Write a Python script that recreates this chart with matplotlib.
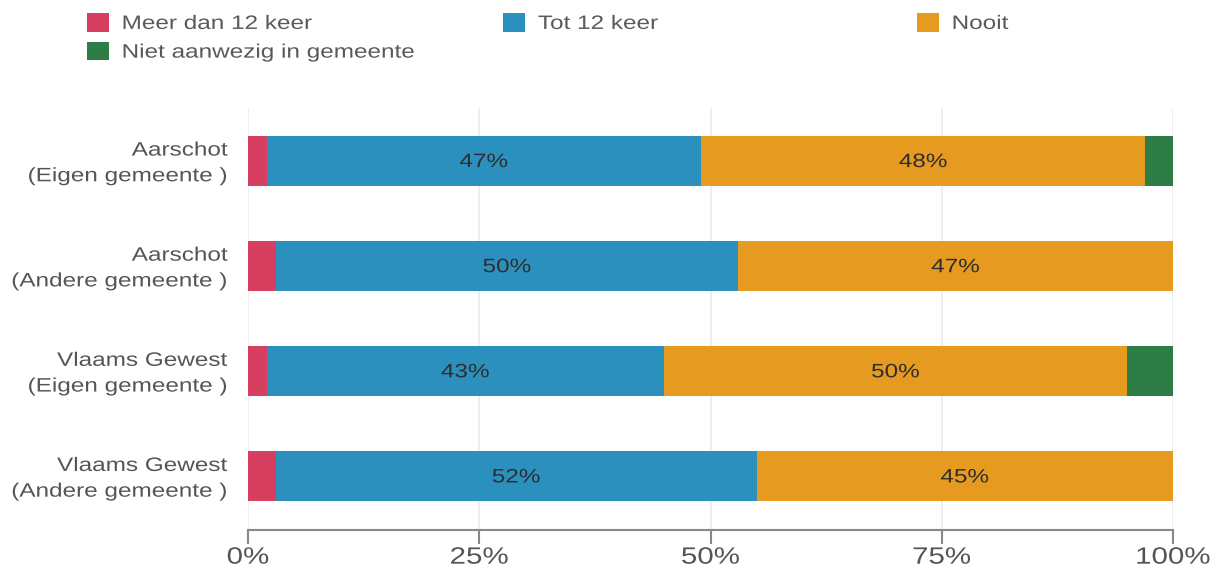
import matplotlib
matplotlib.use("Agg")
import matplotlib.pyplot as plt
from matplotlib.patches import Patch
from matplotlib.patheffects import AbstractPathEffect
from matplotlib.transforms import Affine2D, ScaledTranslation
from matplotlib.ticker import FuncFormatter

plt.rcParams['font.family'] = ['Liberation Sans', 'DejaVu Sans']

# data
groups = ["Aarschot\n(Eigen gemeente )", "Aarschot\n(Andere gemeente )",
          "Vlaams Gewest\n(Eigen gemeente )", "Vlaams Gewest\n(Andere gemeente )"]
series = ["Meer dan 12 keer", "Tot 12 keer", "Nooit", "Niet aanwezig in gemeente"]
meer = [2, 3, 2, 3]
tot = [47, 50, 43, 52]
nooit = [48, 47, 50, 45]
niet = [3, 0, 5, 0]
colors = ["#D63F5F", "#2B90BE", "#E69B20", "#2E7D46"]

values = [meer, tot, nooit, niet]


# the reference text is wider than Liberation Sans, stretch it horizontally
class Stretch(AbstractPathEffect):
    def __init__(self, sx=1.25, ha="left"):
        super().__init__()
        self.sx = sx
        self.ha = ha

    def draw_path(self, renderer, gc, tpath, affine, rgbFace=None):
        ext = tpath.get_extents()
        ref = {"left": ext.x0, "center": (ext.x0 + ext.x1) / 2, "right": ext.x1}[self.ha]
        pre = Affine2D().translate(-ref, 0).scale(self.sx, 1).translate(ref, 0)
        renderer.draw_path(gc, tpath, pre + affine, rgbFace)


SX = 1.25

fig = plt.figure(figsize=(12.21, 5.67), dpi=100)
ax = fig.add_axes([248 / 1221, 1 - 530 / 567, (1173 - 248) / 1221, (530 - 108) / 567])

ypos = list(range(len(groups)))
left = [0] * len(groups)
for name, vals, col in zip(series, values, colors):
    ax.barh(ypos, vals, left=left, height=0.476, color=col, label=name, zorder=2)
    for y, v, l in zip(ypos, vals, left):
        if v >= 10:
            ax.text(l + v / 2, y, f"{v}%", ha="center", va="center_baseline",
                    fontsize=14, color="#2E2E2E", zorder=3,
                    path_effects=[Stretch(SX, "center")])
    left = [a + b for a, b in zip(left, vals)]

ax.set_xlim(0, 100)
ax.set_ylim(3.514, -0.5)
ax.set_yticks(ypos)
ax.set_yticklabels(groups, fontsize=14, color="#555555", linespacing=1.67)
ax.set_xticks([0, 25, 50, 75, 100])
ax.xaxis.set_major_formatter(FuncFormatter(lambda v, p: f"{int(v)}%"))
ax.tick_params(axis="x", labelsize=17, colors="#555555", length=10, width=1.5,
               color="#888888", pad=2)
ax.tick_params(axis="y", length=0, pad=14.2)
ax.grid(axis="x", color="#EBEBEB", linewidth=1.2, zorder=0)
for s in ["top", "right", "left"]:
    ax.spines[s].set_visible(False)
ax.spines["bottom"].set_color("#888888")
ax.spines["bottom"].set_linewidth(1.5)

up = ScaledTranslation(0, 3 / 100, fig.dpi_scale_trans)
for t in ax.get_yticklabels():
    t.set_path_effects([Stretch(SX, "right")])
    t.set_transform(t.get_transform() + up)
for t in ax.get_xticklabels():
    t.set_path_effects([Stretch(SX, "center")])

h = {n: Patch(facecolor=c, edgecolor="none") for n, c in zip(series, colors)}
leg_kw = dict(frameon=False, fontsize=14, handlelength=1.15, handleheight=1.1,
              handletextpad=0.65, labelspacing=0.45, borderpad=0, borderaxespad=0,
              labelcolor="#595959", loc="upper left")
legs = [
    fig.legend([h[series[0]], h[series[3]]], [series[0], series[3]],
               bbox_to_anchor=(87 / 1221, 1 - 13 / 567), **leg_kw),
    fig.legend([h[series[1]]], [series[1]], bbox_to_anchor=(503 / 1221, 1 - 13 / 567), **leg_kw),
    fig.legend([h[series[2]]], [series[2]], bbox_to_anchor=(917 / 1221, 1 - 13 / 567), **leg_kw),
]
for leg in legs:
    for t in leg.get_texts():
        t.set_path_effects([Stretch(SX, "left")])

fig.savefig("out.png", dpi=100)
